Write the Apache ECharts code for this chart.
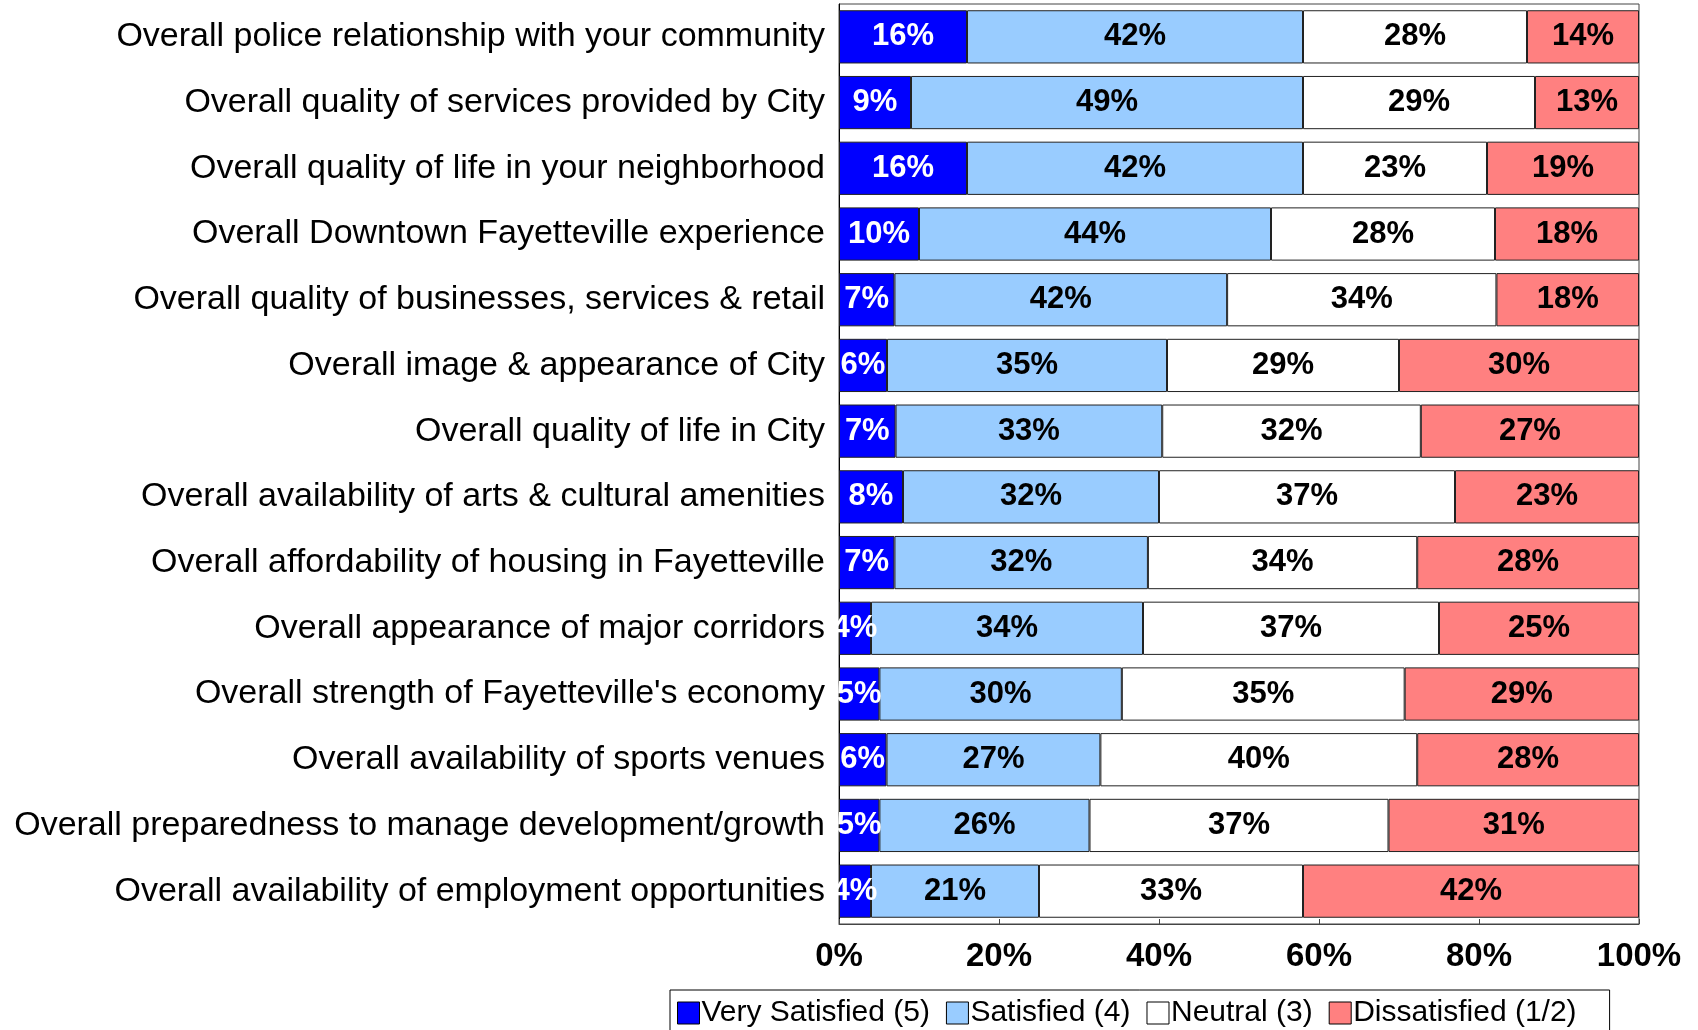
<!DOCTYPE html>
<html>
<head>
<meta charset="utf-8">
<script src="https://cdn.jsdelivr.net/npm/echarts@6/dist/echarts.min.js"></script>
<style>
html,body{margin:0;padding:0;background:#fff;}
#chart{width:1698px;height:1030px;}
</style>
</head>
<body>
<div id="chart"></div>
<script>
var categories = [
  "Overall police relationship with your community",
  "Overall quality of services provided by City",
  "Overall quality of life in your neighborhood",
  "Overall Downtown Fayetteville experience",
  "Overall quality of businesses, services & retail",
  "Overall image & appearance of City",
  "Overall quality of life in City",
  "Overall availability of arts & cultural amenities",
  "Overall affordability of housing in Fayetteville",
  "Overall appearance of major corridors",
  "Overall strength of Fayetteville's economy",
  "Overall availability of sports venues",
  "Overall preparedness to manage development/growth",
  "Overall availability of employment opportunities"
];
var verySatisfied = [16, 9, 16, 10, 7, 6, 7, 8, 7, 4, 5, 6, 5, 4];
var satisfied     = [42, 49, 42, 44, 42, 35, 33, 32, 32, 34, 30, 27, 26, 21];
var neutral       = [28, 29, 23, 28, 34, 29, 32, 37, 34, 37, 35, 40, 37, 33];
var dissatisfied  = [14, 13, 19, 18, 18, 30, 27, 23, 28, 25, 29, 28, 31, 42];
var seriesNames = ["Very Satisfied (5)", "Satisfied (4)", "Neutral (3)", "Dissatisfied (1/2)"];
var xTicks = [0, 20, 40, 60, 80, 100];

var raw = [verySatisfied, satisfied, neutral, dissatisfied];
var colors = ["#0000FF", "#99CCFF", "#FFFFFF", "#FF8080"];
var labelColors = ["#FFFFFF", "#000000", "#000000", "#000000"];
var totals = categories.map(function (c, i) {
  return raw.reduce(function (s, arr) { return s + arr[i]; }, 0);
});

var series = raw.map(function (arr, k) {
  return {
    name: seriesNames[k],
    type: 'bar',
    stack: 'total',
    barCategoryGap: '19%',
    data: arr.map(function (v, i) { return v / totals[i] * 100; }),
    itemStyle: { color: colors[k], borderColor: '#222', borderWidth: 1 },
    label: {
      show: true,
      position: 'inside',
      formatter: function (p) { return raw[k][p.dataIndex] + '%'; },
      color: labelColors[k],
      fontFamily: 'Liberation Sans, Arial, sans-serif',
      fontWeight: 'bold',
      fontSize: 31
    },
    emphasis: { disabled: true }
  };
});

var chart = echarts.init(document.getElementById('chart'));
chart.setOption({
  animation: false,
  backgroundColor: '#fff',
  grid: {
    left: 839, right: 59, top: 4, bottom: 106,
    show: true, borderColor: '#444', borderWidth: 1, backgroundColor: '#fff'
  },
  legend: {
    data: seriesNames,
    left: 670,
    top: 990,
    orient: 'horizontal',
    icon: 'rect',
    itemWidth: 22,
    itemHeight: 22,
    itemGap: 16,
    padding: [8, 33, 30, 7],
    borderColor: '#000',
    borderWidth: 1,
    itemStyle: { borderColor: '#000', borderWidth: 1 },
    textStyle: {
      fontFamily: 'Liberation Sans, Arial, sans-serif',
      fontSize: 30,
      color: '#000',
      lineHeight: 30,
      padding: [0, 0, 0, -3]
    }
  },
  xAxis: {
    type: 'value',
    min: xTicks[0],
    max: xTicks[xTicks.length - 1],
    interval: 20,
    axisLine: { show: true, lineStyle: { color: '#444' } },
    axisTick: { show: true, inside: true, length: 5, lineStyle: { color: '#444' } },
    splitLine: { show: false },
    axisLabel: {
      formatter: '{value}%',
      fontFamily: 'Liberation Sans, Arial, sans-serif',
      fontWeight: 'bold',
      fontSize: 33,
      color: '#000',
      margin: 16
    }
  },
  yAxis: {
    type: 'category',
    inverse: true,
    data: categories,
    axisLine: { show: true, lineStyle: { color: '#000' } },
    axisTick: { show: false },
    axisLabel: {
      fontFamily: 'Liberation Sans, Arial, sans-serif',
      fontSize: 34,
      color: '#000',
      margin: 14
    }
  },
  series: series
});
</script>
</body>
</html>
